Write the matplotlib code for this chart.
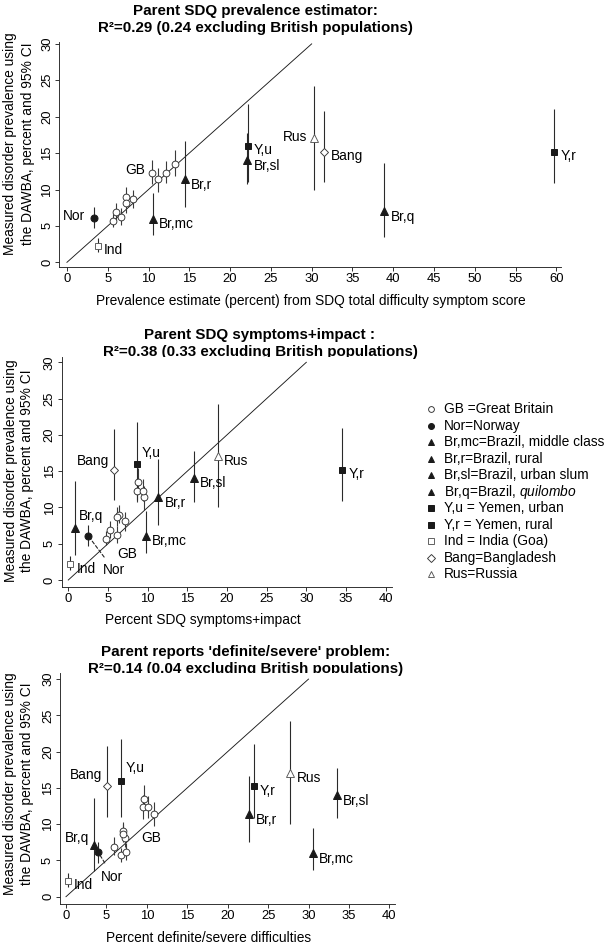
import matplotlib
matplotlib.use('Agg')
import matplotlib.pyplot as plt
import numpy as np

plt.rcParams['font.family'] = ['Liberation Sans', 'DejaVu Sans']
plt.rcParams['mathtext.fontset'] = 'custom'
plt.rcParams['mathtext.rm'] = 'Liberation Sans'
plt.rcParams['mathtext.it'] = 'Liberation Sans:italic'

# measured DAWBA prevalence (percent) + 95% CI, same in all three panels
gb_y = [5.7, 6.9, 6.2, 9.0, 8.1, 8.7, 12.3, 11.4, 12.3, 13.5]
gb_lo = [4.8, 5.8, 5.1, 7.8, 6.8, 7.5, 10.7, 9.7, 10.9, 11.9]
gb_hi = [6.7, 8.2, 7.4, 10.3, 9.4, 10.0, 14.0, 13.0, 13.9, 15.4]

pops = ['Nor', 'Br,mc', 'Br,r', 'Br,sl', 'Br,q', 'Y,u', 'Y,r', 'Ind', 'Bang', 'Rus']
pop_y = [6.1, 6.0, 11.4, 14.0, 7.1, 16.0, 15.2, 2.2, 15.2, 17.1]
pop_lo = [4.7, 3.7, 7.6, 10.8, 3.5, 11.0, 10.9, 1.4, 11.0, 10.0]
pop_hi = [7.6, 9.5, 16.7, 17.8, 13.6, 21.8, 21.0, 3.3, 20.8, 24.2]

# x values for each panel
gb_x_est = [5.6, 6.0, 6.6, 7.3, 7.3, 8.1, 10.4, 11.2, 12.2, 13.2]
gb_x_imp = [4.7, 5.25, 6.2, 6.4, 7.1, 6.2, 8.7, 9.6, 9.4, 8.8]
gb_x_sev = [6.8, 6.0, 7.4, 7.0, 7.3, 7.1, 9.5, 10.85, 10.2, 9.6]
pop_x_est = [3.3, 10.5, 14.5, 22.1, 38.9, 22.2, 59.75, 3.8, 31.5, 30.3]
pop_x_imp = [2.5, 9.75, 11.3, 15.8, 0.9, 8.6, 34.45, 0.2, 5.7, 18.9]
pop_x_sev = [4.0, 30.5, 22.7, 33.5, 3.5, 6.85, 23.2, 0.2, 5.1, 27.75]

titles = ['Parent SDQ prevalence estimator:',
          'Parent SDQ symptoms+impact :',
          "Parent reports 'definite/severe' problem:"]
r2_text = ['R²=0.29 (0.24 excluding British populations)',
           'R²=0.38 (0.33 excluding British populations)',
           'R²=0.14 (0.04 excluding British populations)']
xlabels = ['Prevalence estimate (percent) from SDQ total difficulty symptom score',
           'Percent SDQ symptoms+impact',
           'Percent definite/severe difficulties']
xticks_max = [60, 40, 40]
ref_line = [0, 30]

legend_labels = ['GB =Great Britain', 'Nor=Norway', 'Br,mc=Brazil, middle class',
                 'Br,r=Brazil, rural', 'Br,sl=Brazil, urban slum',
                 r'Br,q=Brazil, $\mathit{quilombo}$', 'Y,u = Yemen, urban',
                 'Y,r = Yemen, rural', 'Ind = India (Goa)', 'Bang=Bangladesh',
                 'Rus=Russia']

# marker styles
K = '#1a1a1a'
styles = {
    'GB': dict(marker='o', ms=6.8, mfc='white', mec='#2e2e2e', mew=0.9),
    'Nor': dict(marker='o', ms=7, mfc=K, mec=K),
    'Br': dict(marker='^', ms=7.5, mfc=K, mec=K),
    'Y': dict(marker='s', ms=6.5, mfc=K, mec=K),
    'Ind': dict(marker='s', ms=6.5, mfc='white', mec='#555555', mew=0.9),
    'Bang': dict(marker='D', ms=6, mfc='white', mec='#333333', mew=0.9),
    'Rus': dict(marker='^', ms=7.5, mfc='white', mec='#555555', mew=0.9),
}
def style_of(name):
    if name.startswith('Br'):
        return styles['Br']
    if name.startswith('Y'):
        return styles['Y']
    return styles[name]

legend_styles = ['GB', 'Nor', 'Br', 'Br', 'Br', 'Br', 'Y', 'Y', 'Ind', 'Bang', 'Rus']

# label offsets in pixels (dx, dy, ha), per panel
offs = [
    {'Nor': (-9.3, 1.7, 'right'), 'Ind': (6.2, -4, 'left'), 'Br,mc': (6.6, -5.7, 'left'),
     'Br,r': (5.8, -6, 'left'), 'Y,u': (5.8, -4.3, 'left'), 'Br,sl': (6.2, -5.3, 'left'),
     'Rus': (-7, 0.7, 'right'), 'Bang': (6.6, -4.7, 'left'), 'Br,q': (6.6, -6, 'left'),
     'Y,r': (6.2, -4, 'left')},
    {'Ind': (6.7, -5, 'left'), 'Nor': (15, -34.3, 'left'), 'Bang': (-4.7, 8.3, 'right'),
     'Y,u': (4.7, 10.7, 'left'), 'Br,q': (3, 12, 'left'), 'Br,r': (6.7, -5.7, 'left'),
     'Br,mc': (6, -4.7, 'left'), 'Br,sl': (6.3, -5, 'left'), 'Rus': (6, -5.3, 'left'),
     'Y,r': (6.7, -4.3, 'left')},
    {'Ind': (5.7, -4.7, 'left'), 'Nor': (2.4, -24.6, 'left'), 'Br,q': (-5.3, 6.7, 'right'),
     'Bang': (-4.7, 11, 'right'), 'Y,u': (4.3, 13, 'left'), 'Y,r': (6, -5, 'left'),
     'Br,r': (6.7, -6, 'left'), 'Rus': (6.3, -5, 'left'), 'Br,sl': (6.3, -6.3, 'left'),
     'Br,mc': (6, -5.7, 'left')},
]
gb_label = [(6, -6.6, 2.7, 'right'), (0, 11.7, -15, 'left'), (3, 19.1, -6.8, 'left')]
nor_leader = [None, (0.25, 5), (0.38, 6)]

# pixel boxes of the three axes: x0, x1, ytop, ybottom ; and limits
boxes = [(59.1, 561.5, 41.7, 266.7), (61.7, 391.7, 356.7, 586.7), (60, 395, 673.3, 904.3)]
xlims = [(-0.96, 60.63), (-0.83, 40.76), (-0.74, 40.7)]
ylims = [(-0.6, 30.3), (-0.92, 30.77), (-1.05, 30.8)]
title_pos = [(255, 14.5, 32), (260, 339, 356), (246, 656, 673)]
xlab_pos = [(311, 305), (203, 624), (208.5, 942)]
ylab_pos = [(10.5, 28.5, 143.3), (11, 27.5, 471), (10.5, 27.5, 784)]

W, H = 608, 947
fig = plt.figure(figsize=(W / 72, H / 72), dpi=72)
FS = 13.8
TFS = 15.1

gb_xs = [gb_x_est, gb_x_imp, gb_x_sev]
pop_xs = [pop_x_est, pop_x_imp, pop_x_sev]

for p in range(3):
    x0, x1, yt, yb = boxes[p]
    ax = fig.add_axes([x0 / W, 1 - yb / H, (x1 - x0) / W, (yb - yt) / H])
    ax.set_xlim(xlims[p])
    ax.set_ylim(ylims[p])
    for s in ['top', 'right']:
        ax.spines[s].set_visible(False)
    for s in ['left', 'bottom']:
        ax.spines[s].set_linewidth(0.9)
        ax.spines[s].set_color('#222222')
    ax.set_xticks(np.arange(0, xticks_max[p] + 1, 5))
    ax.set_yticks(np.arange(0, 31, 5))
    ax.tick_params(direction='out', length=4, width=0.9, color='#222222',
                   labelsize=13, pad=2)
    for lab in ax.get_yticklabels():
        lab.set_rotation(90)
        lab.set_va('center')

    ax.plot(ref_line, ref_line, color='#1a1a1a', lw=0.9, zorder=1)

    gx = gb_xs[p]
    px = pop_xs[p]
    ax.vlines(gx, gb_lo, gb_hi, color='#3a3a3a', lw=1.1, zorder=2)
    ax.vlines(px, pop_lo, pop_hi, color='#2a2a2a', lw=1.1, zorder=2)
    ax.plot(gx, gb_y, ls='none', zorder=3, **styles['GB'])
    for i, name in enumerate(pops):
        ax.plot(px[i], pop_y[i], ls='none', zorder=3, **style_of(name))
        dx, dy, ha = offs[p][name]
        if name == 'Nor' and nor_leader[p] is not None:
            rp, shr = nor_leader[p]
            ax.annotate(name, (px[i], pop_y[i]), xytext=(dx, dy), textcoords='offset points',
                        ha=ha, va='center', fontsize=FS,
                        arrowprops=dict(arrowstyle='-', ls=(0, (3, 2)), lw=1.1, color='#222222',
                                        relpos=(rp, 1.0), shrinkA=shr, shrinkB=4))
        else:
            ax.annotate(name, (px[i], pop_y[i]), xytext=(dx, dy), textcoords='offset points',
                        ha=ha, va='center', fontsize=FS)
    gi, dx, dy, ha = gb_label[p]
    ax.annotate('GB', (gx[gi], gb_y[gi]), xytext=(dx, dy), textcoords='offset points',
                ha=ha, va='center', fontsize=FS)

# overlay in pixel coords for titles, axis labels and legend
lax = fig.add_axes([0, 0, 1, 1], zorder=-1)
lax.set_xlim(0, W)
lax.set_ylim(H, 0)
lax.axis('off')
for p in range(3):
    cx, b1, b2 = title_pos[p]
    lax.text(cx, b1, titles[p], ha='center', va='baseline', fontsize=TFS, fontweight='bold')
    lax.text(cx, b2, r2_text[p], ha='center', va='baseline', fontsize=TFS, fontweight='bold')
    lx, ly = xlab_pos[p]
    lax.text(lx, ly, xlabels[p], ha='center', va='baseline', fontsize=FS)
    a, b, yc = ylab_pos[p]
    lax.text(a, yc, 'Measured disorder prevalence using', rotation=90,
             ha='center', va='center', fontsize=FS)
    lax.text(b, yc, 'the DAWBA, percent and 95% CI', rotation=90,
             ha='center', va='center', fontsize=FS)

for i, lab in enumerate(legend_labels):
    yy = 409.3 + i * 16.47
    st = dict(styles[legend_styles[i]])
    st['ms'] = st['ms'] * 0.85
    lax.plot(431, yy, ls='none', **st)
    lax.text(444, yy, lab, ha='left', va='center', fontsize=13.7)

fig.savefig('out.png', dpi=72)
